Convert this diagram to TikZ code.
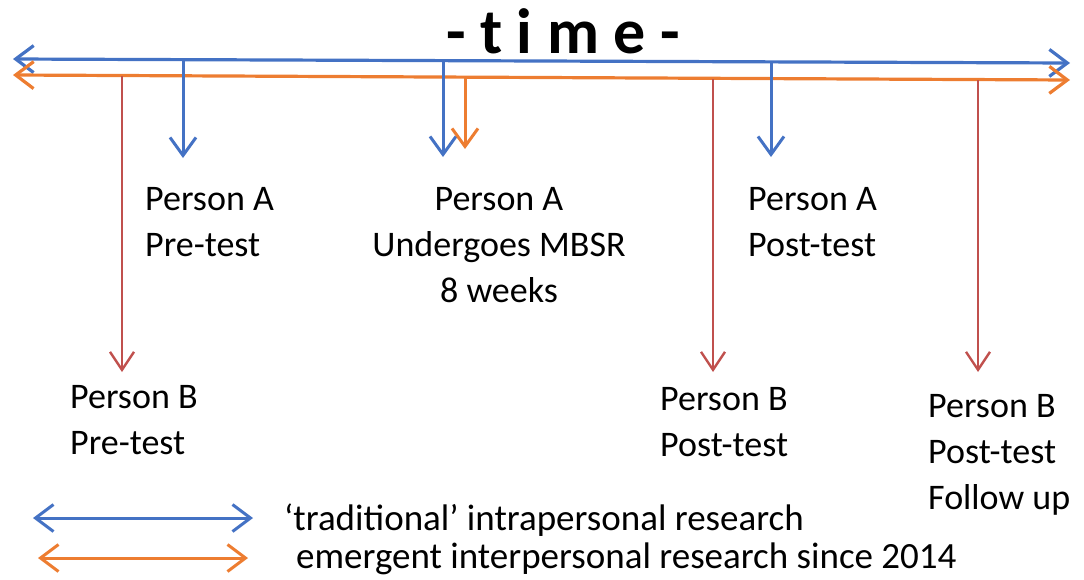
\documentclass[tikz,border=0pt]{standalone}
\usepackage{fontspec}
\setmainfont{Carlito}
\usetikzlibrary{arrows.meta}
\definecolor{oblue}{HTML}{4472C4}
\definecolor{oorange}{HTML}{ED7D31}
\definecolor{ored}{HTML}{C0504D}
\tikzset{
  tl/.style={line width=3.2pt,{Straight Barb[length=18pt,width=27pt,line width=3.2pt]}-{Straight Barb[length=18pt,width=27pt,line width=3.2pt]}},
  lg/.style={line width=3pt,{Straight Barb[length=18pt,width=27pt,line width=3pt]}-{Straight Barb[length=18pt,width=27pt,line width=3pt]}},
  dn/.style={line width=3pt,-{Straight Barb[length=18pt,width=26pt,line width=3pt]}},
  rdn/.style={ored,line width=2.4pt,-{Straight Barb[length=18pt,width=24pt,line width=2.4pt]}},
  lbl/.style={inner sep=0pt,font=\fontsize{36}{46}\selectfont},
  lgt/.style={inner sep=0pt,font=\fontsize{37}{46}\selectfont},
}
\begin{document}
\begin{tikzpicture}[x=1pt,y=-1pt]
\useasboundingbox (0,0) rectangle (1084,579);
% title
\node[inner sep=0pt,anchor=base,font=\fontsize{64}{64}\selectfont\bfseries] (title) at (563,53) {- t i m e -};
% timelines
\coordinate (bL) at (13,59); \coordinate (bR) at (1070,63);
\coordinate (oL) at (13,75); \coordinate (oR) at (1070,80);
\draw[tl,oblue] (bL) -- (bR);
\draw[tl,oorange] (oL) -- (oR);
% top/bottom points
\coordinate (b1s) at (183,60); \coordinate (b1e) at (183,158);
\coordinate (b2s) at (443,61); \coordinate (b2e) at (443,157);
\coordinate (o1s) at (465,77); \coordinate (o1e) at (465,149);
\coordinate (b3s) at (771,62); \coordinate (b3e) at (771,157);
\coordinate (r1s) at (122,76); \coordinate (r1e) at (122,372);
\coordinate (r2s) at (713,79); \coordinate (r2e) at (713,372);
\coordinate (r3s) at (978,80); \coordinate (r3e) at (978,372);
\draw[dn,oblue] (b1s) -- (b1e);
\draw[dn,oblue] (b2s) -- (b2e);
\draw[dn,oorange] (o1s) -- (o1e);
\draw[dn,oblue] (b3s) -- (b3e);
\draw[rdn] (r1s) -- (r1e);
\draw[rdn] (r2s) -- (r2e);
\draw[rdn] (r3s) -- (r3e);
% labels (anchor = baseline of last line)
\node[lbl,anchor=base west,align=left] (pa1) at (145,256) {Person A\\Pre-test};
\node[lbl,anchor=base,align=center] (pa2) at (499,302) {Person A\\Undergoes MBSR\\8 weeks};
\node[lbl,anchor=base west,align=left] (pa3) at (748,256) {Person A\\Post-test};
\node[lbl,anchor=base west,align=left] (pb1) at (70,454) {Person B\\Pre-test};
\node[lbl,anchor=base west,align=left] (pb2) at (660,456) {Person B\\Post-test};
\node[lbl,anchor=base west,align=left] (pb3) at (928,509) {Person B\\Post-test\\Follow up};
% legend
\coordinate (l1a) at (33,518); \coordinate (l1b) at (253,518);
\coordinate (l2a) at (38,558); \coordinate (l2b) at (248,558);
\draw[lg,oblue] (l1a) -- (l1b);
\draw[lg,oorange] (l2a) -- (l2b);
\node[lgt,anchor=base west] (t1) at (284,530) {‘traditional’ intrapersonal research};
\node[lgt,anchor=base west] (t2) at (296,568) {emergent interpersonal research since 2014};
\end{tikzpicture}
\end{document}
